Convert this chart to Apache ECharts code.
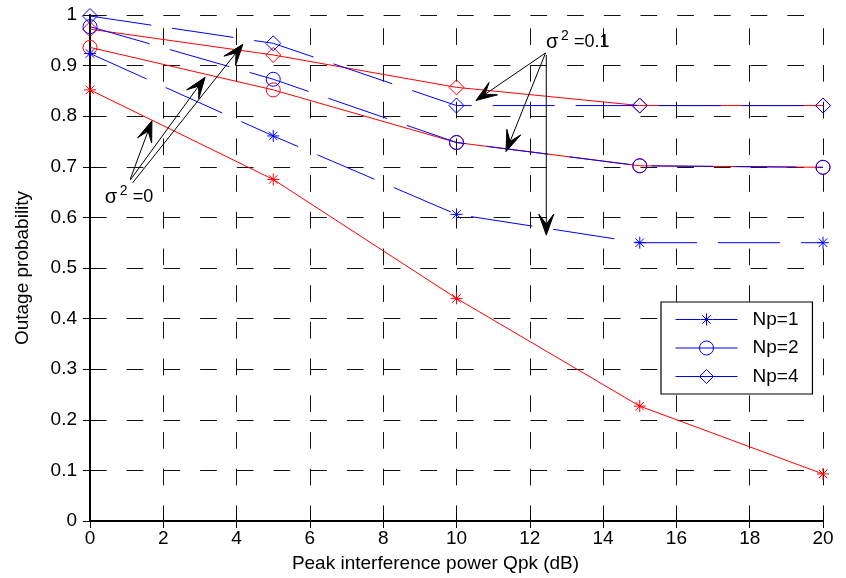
<!DOCTYPE html>
<html>
<head>
<meta charset="utf-8">
<script src="https://cdn.jsdelivr.net/npm/echarts@6/dist/echarts.min.js"></script>
<style>
  html, body { margin: 0; padding: 0; background: #fff; }
  #chart { width: 846px; height: 578px; }
</style>
</head>
<body>
<div id="chart"></div>
<script>
// Peak interference power Qpk (dB)
const qpk = [0, 5, 10, 15, 20];

// Outage probability, sigma^2 = 0 (solid red)
const np1Sigma0 = [0.852, 0.675, 0.440, 0.227, 0.093];
const np2Sigma0 = [0.936, 0.852, 0.748, 0.702, 0.699];
const np4Sigma0 = [0.972, 0.921, 0.857, 0.821, 0.821];

// Outage probability, sigma^2 = 0.1 (dashed blue)
const np1Sigma01 = [0.924, 0.761, 0.606, 0.550, 0.550];
const np2Sigma01 = [0.977, 0.873, 0.748, 0.702, 0.699];
const np4Sigma01 = [0.998, 0.944, 0.821, 0.821, 0.821];

const legendNames = ['Np=1', 'Np=2', 'Np=4'];
const xTickLabels = ['0', '2', '4', '6', '8', '10', '12', '14', '16', '18', '20'];
const yTickLabels = ['0', '0.1', '0.2', '0.3', '0.4', '0.5', '0.6', '0.7', '0.8', '0.9', '1'];

// Annotation arrows, [from, to] in data coordinates
const sigma0Arrows = [
  [[1.10, 0.676], [1.69, 0.791]],
  [[1.10, 0.674], [3.14, 0.877]],
  [[1.16, 0.668], [4.17, 0.942]]
];
const sigma01Arrows = [
  [[12.43, 0.925], [10.53, 0.831]],
  [[12.43, 0.925], [11.35, 0.730]],
  [[12.45, 0.921], [12.45, 0.565]]
];
// Annotation labels: anchor (left, baseline) in data coordinates
const sigma0Label = { at: [0.40, 0.628], value: '=0' };
const sigma01Label = { at: [12.44, 0.934], value: '=0.1' };

const FONT = '"Liberation Sans", Arial, Helvetica, sans-serif';
const FS = 19;
const RED = '#ff0000';
const BLUE = '#0000ff';
const STAR = 'path://M6 0L6 12M0 6L12 6M1.76 1.76L10.24 10.24M10.24 1.76L1.76 10.24';

// Legend keys: a solid line with the marker in its middle (62 x 14 box)
const LEGEND_ICONS = [
  'path://M0 7L25 7M37 7L62 7M31 1L31 13M25 7L37 7M26.76 2.76L35.24 11.24M35.24 2.76L26.76 11.24',
  'path://M0 7L24 7M38 7L62 7M24 7L38 7M38 7A7 7 0 1 1 24 7A7 7 0 1 1 38 7',
  'path://M0 7L24 7M38 7L62 7M24 7L38 7M31 0L38 7L31 14L24 7Z'
];

function curve(name, values, color, symbol, size, dashed) {
  return {
    name: name,
    type: 'line',
    color: color,
    data: qpk.map((x, i) => [x, values[i]]),
    symbol: symbol,
    symbolSize: size,
    showAllSymbol: true,
    lineStyle: { color: color, width: 1, type: dashed ? [62, 21] : 'solid' },
    itemStyle: { color: 'rgba(0,0,0,0)', borderColor: color, borderWidth: 1 },
    emphasis: { disabled: true },
    silent: true,
    z: dashed ? 3 : 2
  };
}

const series = [
  curve('σ²=0, Np=1', np1Sigma0, RED, STAR, 12, false),
  curve('σ²=0, Np=2', np2Sigma0, RED, 'circle', 14, false),
  curve('σ²=0, Np=4', np4Sigma0, RED, 'diamond', 15, false),
  curve(legendNames[0], np1Sigma01, BLUE, STAR, 12, true),
  curve(legendNames[1], np2Sigma01, BLUE, 'circle', 14, true),
  curve(legendNames[2], np4Sigma01, BLUE, 'diamond', 15, true)
];

const tickStyle = { show: true, inside: true, length: 7, lineStyle: { color: '#000', width: 1 } };
const labelStyle = { color: '#000', fontSize: FS, fontFamily: FONT };

const option = {
  animation: false,
  backgroundColor: '#fff',
  grid: { left: 90, right: 23, top: 15, bottom: 57, containLabel: false },
  xAxis: [
    {
      type: 'value', min: 0, max: 20, interval: 2, position: 'bottom',
      name: 'Peak interference power Qpk (dB)', nameLocation: 'middle', nameGap: 33,
      nameTextStyle: { color: '#000', fontSize: FS, fontFamily: FONT, padding: [0, 42, 0, 0] },
      axisLine: { show: true, lineStyle: { color: '#000', width: 2 } },
      axisTick: tickStyle,
      axisLabel: Object.assign({ margin: 8, formatter: v => xTickLabels[Math.round(v / 2)] }, labelStyle),
      splitLine: { show: true, lineStyle: { color: '#111', width: 1, type: [16.7, 20], dashOffset: 23.4 } }
    },
    {
      type: 'value', min: 0, max: 20, interval: 2, position: 'top',
      axisLine: { show: true, lineStyle: { color: '#000', width: 1.5 } },
      axisTick: tickStyle, axisLabel: { show: false }, splitLine: { show: false }
    }
  ],
  yAxis: [
    {
      type: 'value', min: 0, max: 1, interval: 0.1, position: 'left',
      name: 'Outage probability', nameLocation: 'middle', nameGap: 58,
      nameTextStyle: { color: '#000', fontSize: FS, fontFamily: FONT },
      axisLine: { show: true, lineStyle: { color: '#000', width: 2 } },
      axisTick: tickStyle,
      axisLabel: Object.assign({ margin: 13, formatter: v => yTickLabels[Math.round(v * 10)] }, labelStyle),
      splitLine: { show: true, lineStyle: { color: '#111', width: 1, type: [16.7, 20], dashOffset: 0 } }
    },
    {
      type: 'value', min: 0, max: 1, interval: 0.1, position: 'right',
      axisLine: { show: true, lineStyle: { color: '#000', width: 1.5 } },
      axisTick: tickStyle, axisLabel: { show: false }, splitLine: { show: false }
    }
  ],
  legend: {
    orient: 'vertical',
    left: 661, top: 302,
    padding: [8, 14, 8, 14],
    itemWidth: 62, itemHeight: 14, itemGap: 9.5,
    backgroundColor: '#fff',
    borderColor: '#000', borderWidth: 1.2,
    selectedMode: false,
    textStyle: { color: '#000', fontSize: FS, fontFamily: FONT, lineHeight: 14, padding: [0, 0, 0, 10] },
    data: legendNames.map((n, i) => ({
      name: n,
      icon: LEGEND_ICONS[i],
      itemStyle: { color: 'rgba(0,0,0,0)', borderColor: BLUE, borderWidth: 1 }
    }))
  },
  series: series
};

const chart = echarts.init(document.getElementById('chart'), null, { renderer: 'canvas' });
chart.setOption(option);

// Annotation arrows and labels, placed through the axes' own scales
function toPx(p) { return chart.convertToPixel({ xAxisIndex: 0, yAxisIndex: 0 }, p); }

const graphics = [];
function addArrow(from, to) {
  const a = toPx(from), b = toPx(to);
  const dx = b[0] - a[0], dy = b[1] - a[1];
  const len = Math.sqrt(dx * dx + dy * dy);
  const ux = dx / len, uy = dy / len, nx = -uy, ny = ux;
  const L = 21, W = 7.5, N = 11;
  graphics.push({
    type: 'line', silent: true, z: 50,
    shape: { x1: a[0], y1: a[1], x2: b[0] - N * ux, y2: b[1] - N * uy },
    style: { stroke: '#000', lineWidth: 1 }
  });
  graphics.push({
    type: 'polygon', silent: true, z: 50,
    shape: { points: [
      [b[0], b[1]],
      [b[0] - L * ux + W * nx, b[1] - L * uy + W * ny],
      [b[0] - N * ux, b[1] - N * uy],
      [b[0] - L * ux - W * nx, b[1] - L * uy - W * ny]
    ] },
    style: { fill: '#000', stroke: '#000', lineWidth: 1 }
  });
}
function addLabel(lbl) {
  const p = toPx(lbl.at);
  const parts = [
    { text: 'σ', dx: 0, dy: -6, size: 20 },
    { text: '2', dx: 15, dy: -12, size: 14 },
    { text: lbl.value, dx: 28, dy: -6, size: 18 }
  ];
  parts.forEach(t => graphics.push({
    type: 'text', silent: true, z: 50,
    style: {
      text: t.text, x: p[0] + t.dx, y: p[1] + t.dy,
      fontSize: t.size, fontFamily: FONT, fill: '#000',
      align: 'left', verticalAlign: 'middle'
    }
  }));
}
sigma0Arrows.forEach(a => addArrow(a[0], a[1]));
sigma01Arrows.forEach(a => addArrow(a[0], a[1]));
addLabel(sigma0Label);
addLabel(sigma01Label);
chart.setOption({ graphic: graphics });
</script>
</body>
</html>
